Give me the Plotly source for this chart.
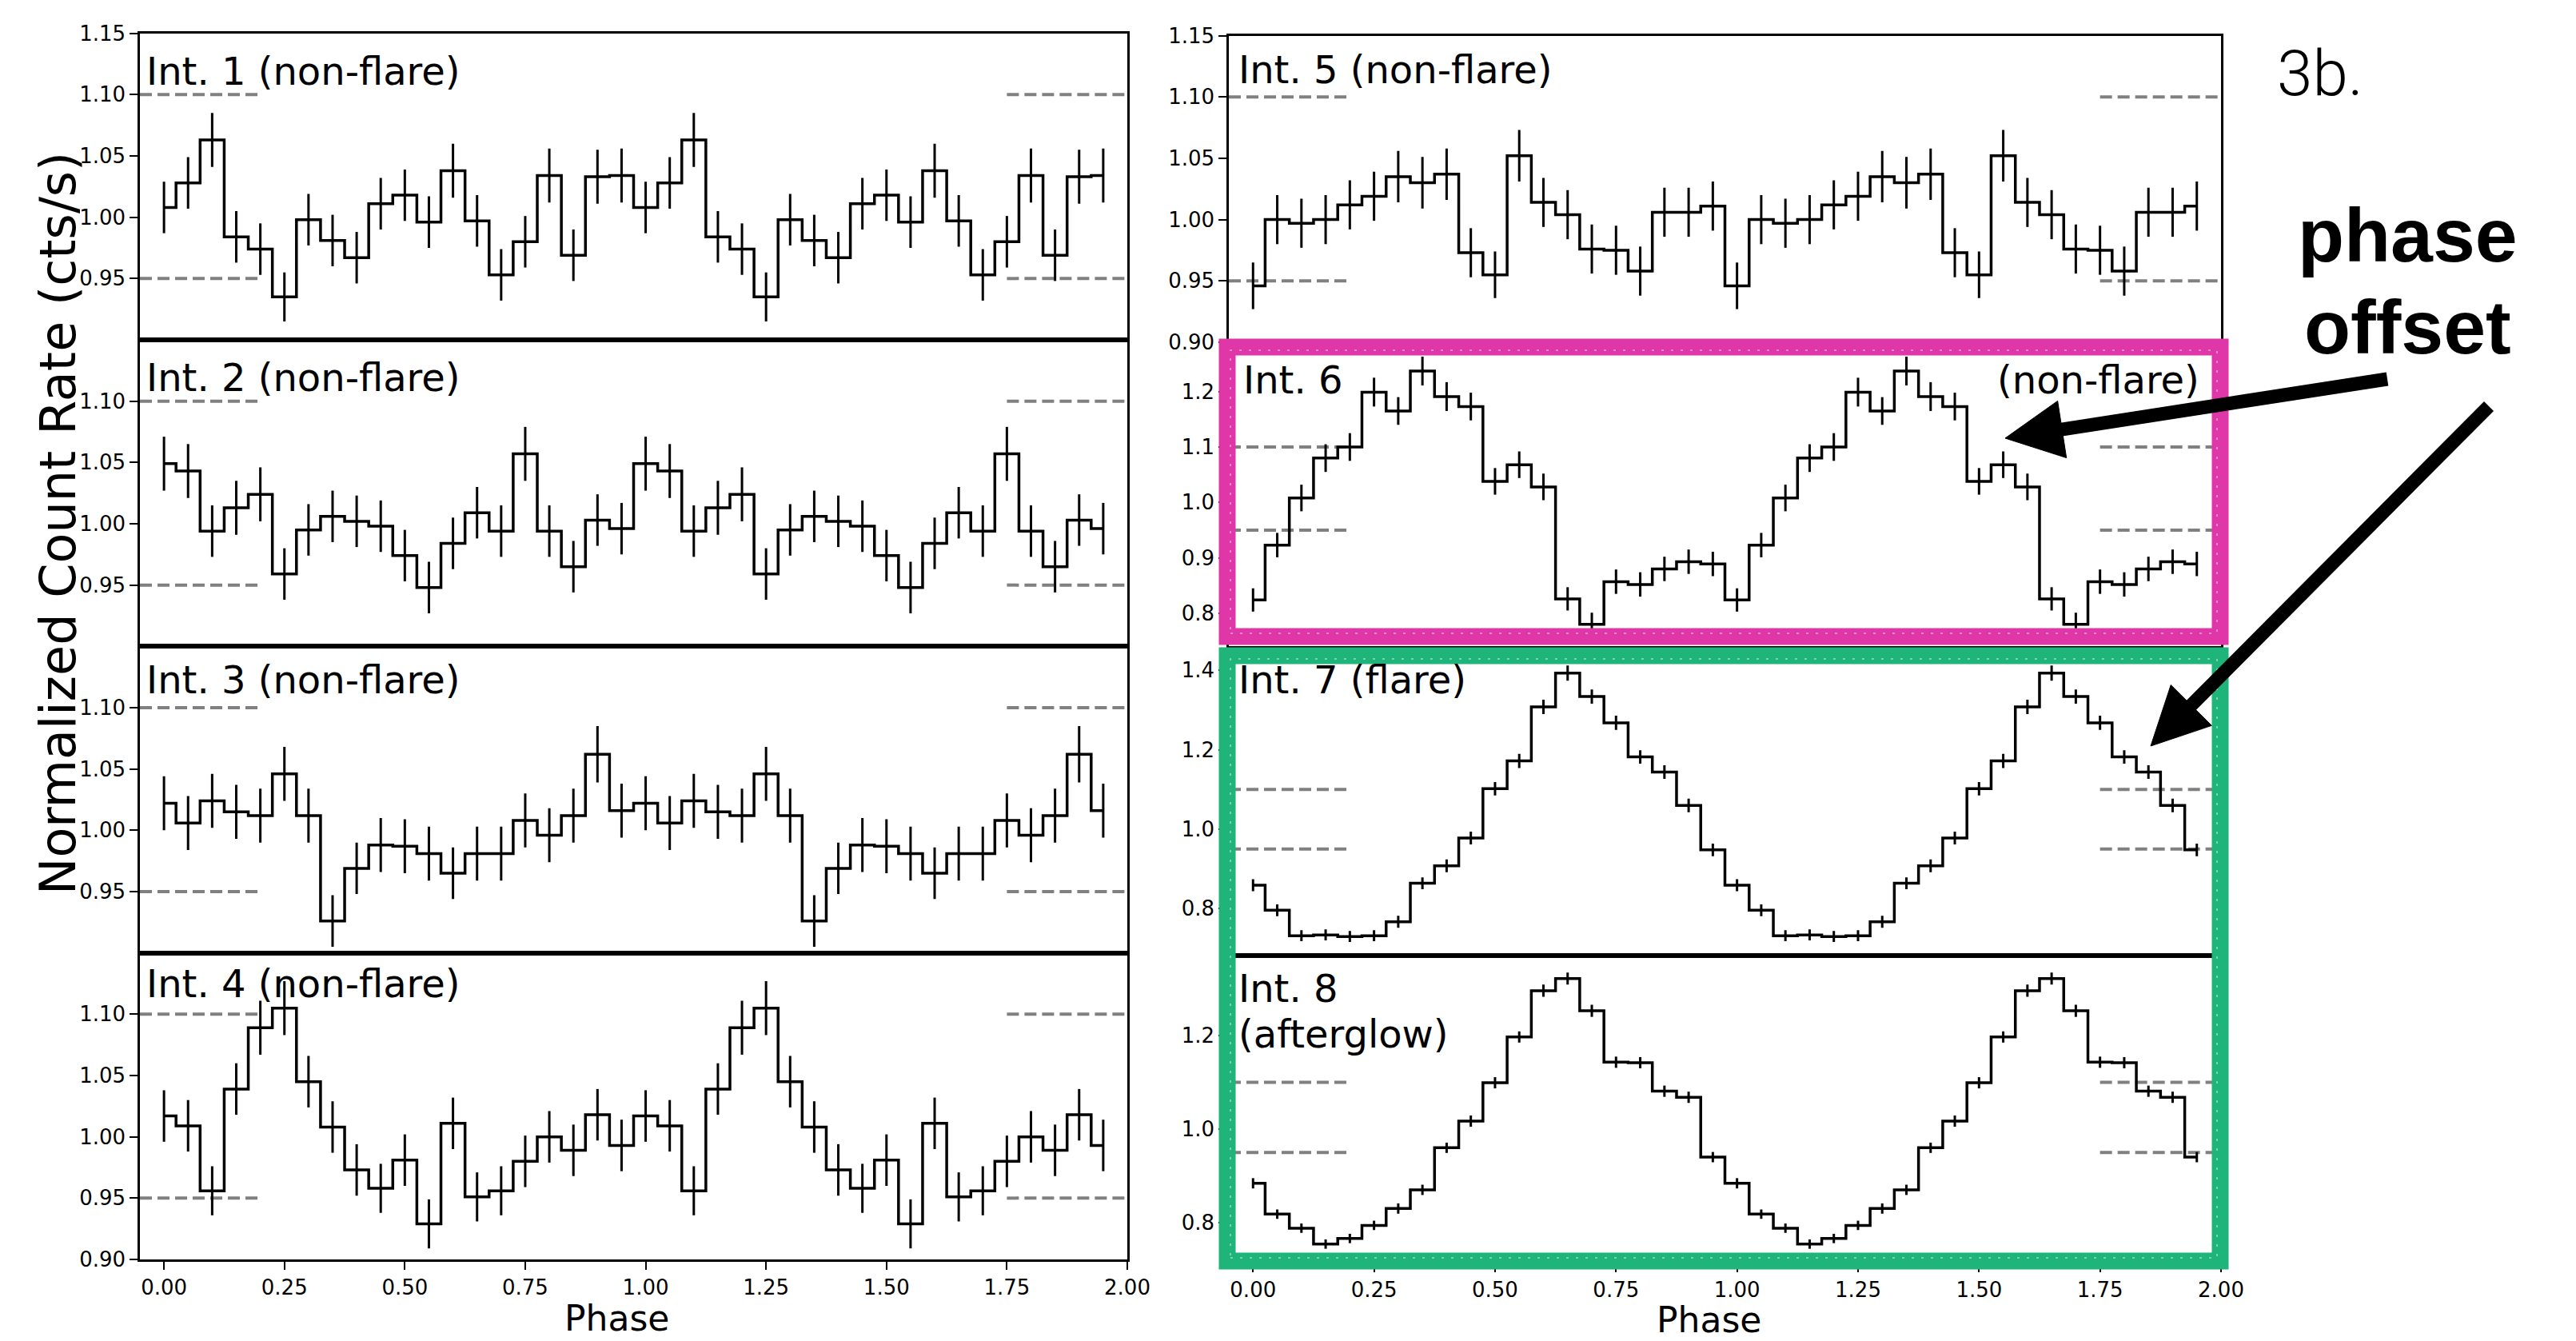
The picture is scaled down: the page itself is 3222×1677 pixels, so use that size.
import math
import plotly.graph_objects as go

W, H = 3222, 1677

# ---------------- data ----------------
PHASE = [0.00, 0.05, 0.10, 0.15, 0.20, 0.25, 0.30, 0.35, 0.40, 0.45,
         0.50, 0.55, 0.60, 0.65, 0.70, 0.75, 0.80, 0.85, 0.90, 0.95,
         1.00, 1.05, 1.10, 1.15, 1.20, 1.25, 1.30, 1.35, 1.40, 1.45,
         1.50, 1.55, 1.60, 1.65, 1.70, 1.75, 1.80, 1.85, 1.90, 1.95]

INT1 = [1.008, 1.028, 1.063, 0.984, 0.974, 0.935, 0.998, 0.981, 0.967, 1.011,
        1.018, 0.996, 1.038, 0.997, 0.953, 0.980, 1.034, 0.969, 1.033, 1.034]
ERR1 = [0.021, 0.021, 0.022, 0.021, 0.021, 0.020, 0.021, 0.021, 0.021, 0.021,
        0.021, 0.021, 0.022, 0.021, 0.021, 0.021, 0.022, 0.021, 0.022, 0.022]

INT2 = [1.049, 1.043, 0.994, 1.013, 1.024, 0.959, 0.995, 1.006, 1.002, 0.998,
        0.974, 0.948, 0.984, 1.009, 0.994, 1.057, 0.994, 0.965, 1.003, 0.996]
ERR2 = [0.022, 0.022, 0.021, 0.022, 0.022, 0.021, 0.021, 0.021, 0.021, 0.021,
        0.021, 0.021, 0.021, 0.021, 0.021, 0.022, 0.021, 0.021, 0.021, 0.021]

INT3 = [1.022, 1.006, 1.024, 1.015, 1.012, 1.046, 1.012, 0.926, 0.969, 0.988,
        0.987, 0.981, 0.965, 0.981, 0.981, 1.008, 0.996, 1.012, 1.062, 1.016]
ERR3 = [0.022, 0.022, 0.022, 0.022, 0.022, 0.022, 0.022, 0.021, 0.021, 0.022,
        0.022, 0.022, 0.021, 0.022, 0.022, 0.022, 0.022, 0.022, 0.023, 0.022]

INT4 = [1.017, 1.009, 0.956, 1.039, 1.089, 1.105, 1.045, 1.008, 0.973, 0.958,
        0.981, 0.929, 1.011, 0.951, 0.956, 0.980, 1.000, 0.989, 1.018, 0.993]
ERR4 = [0.021, 0.021, 0.020, 0.021, 0.022, 0.022, 0.021, 0.021, 0.021, 0.020,
        0.021, 0.020, 0.021, 0.020, 0.020, 0.021, 0.021, 0.021, 0.021, 0.021]

INT5 = [0.946, 1.000, 0.997, 1.000, 1.012, 1.019, 1.035, 1.030, 1.037, 0.973,
        0.955, 1.052, 1.014, 1.004, 0.976, 0.975, 0.958, 1.006, 1.006, 1.011]
ERR5 = [0.019, 0.020, 0.020, 0.020, 0.020, 0.020, 0.021, 0.021, 0.021, 0.020,
        0.019, 0.021, 0.020, 0.020, 0.020, 0.020, 0.020, 0.020, 0.020, 0.020]

INT6 = [0.824, 0.923, 1.008, 1.080, 1.100, 1.199, 1.165, 1.237, 1.191, 1.173,
        1.038, 1.068, 1.028, 0.826, 0.780, 0.857, 0.852, 0.880, 0.893, 0.889]
ERR6 = [0.021, 0.022, 0.024, 0.025, 0.025, 0.026, 0.025, 0.026, 0.026, 0.025,
        0.024, 0.024, 0.024, 0.021, 0.021, 0.022, 0.022, 0.022, 0.022, 0.022]

INT7 = [0.859, 0.796, 0.732, 0.734, 0.730, 0.732, 0.767, 0.864, 0.908, 0.978,
        1.102, 1.172, 1.308, 1.393, 1.334, 1.268, 1.182, 1.144, 1.060, 0.948]
ERR7 = [0.015, 0.015, 0.014, 0.014, 0.014, 0.014, 0.015, 0.015, 0.016, 0.016,
        0.017, 0.018, 0.018, 0.019, 0.018, 0.018, 0.017, 0.017, 0.017, 0.016]

INT8 = [0.884, 0.818, 0.788, 0.754, 0.766, 0.794, 0.830, 0.870, 0.960, 1.017,
        1.099, 1.197, 1.296, 1.322, 1.253, 1.143, 1.142, 1.081, 1.068, 0.940]
ERR8 = [0.011, 0.010, 0.010, 0.010, 0.010, 0.010, 0.011, 0.011, 0.011, 0.012,
        0.012, 0.012, 0.013, 0.013, 0.013, 0.012, 0.012, 0.012, 0.012, 0.011]

SERIES = [INT1, INT2, INT3, INT4, INT5, INT6, INT7, INT8]
ERRORS = [ERR1, ERR2, ERR3, ERR4, ERR5, ERR6, ERR7, ERR8]

LABELS = ["Int. 1 (non-flare)", "Int. 2 (non-flare)", "Int. 3 (non-flare)",
          "Int. 4 (non-flare)", "Int. 5 (non-flare)", "Int. 6", "Int. 7 (flare)",
          "Int. 8"]

YTICKS = [
    [0.95, 1.00, 1.05, 1.10, 1.15],
    [0.95, 1.00, 1.05, 1.10],
    [0.95, 1.00, 1.05, 1.10],
    [0.90, 0.95, 1.00, 1.05, 1.10],
    [0.90, 0.95, 1.00, 1.05, 1.10, 1.15],
    [0.8, 0.9, 1.0, 1.1, 1.2],
    [0.8, 1.0, 1.2, 1.4],
    [0.8, 1.0, 1.2],
]
YRANGES = [[0.90, 1.15], [0.90, 1.15], [0.90, 1.15], [0.90, 1.15],
           [0.90, 1.15], [0.7364, 1.289], [0.683, 1.455], [0.716, 1.372]]
YFORMAT = [".2f"] * 5 + [".1f"] * 3

XTICKS = [0.00, 0.25, 0.50, 0.75, 1.00, 1.25, 1.50, 1.75, 2.00]
XRANGE = [-0.05, 2.0]
DASH_LEVELS = [0.95, 1.10]
DASH_SPANS = [[-0.05, 0.2], [1.75, 2.0]]

# ---------------- layout geometry (pixels) ----------------
COLS = [(175, 1410), (1537, 2778)]
ROWS_LEFT = [41.7, 425.0, 808.3, 1191.7, 1575.0]
ROWS_RIGHT = [44.5, 428.0, 811.0, 1194.5, 1578.0]

FONT = "DejaVu Sans"


def px(x):
    return x / W


def py(y):
    return 1 - y / H


fig = go.Figure()
layout = dict(
    width=W, height=H, autosize=False,
    margin=dict(l=0, r=0, t=0, b=0, autoexpand=False),
    paper_bgcolor="white", plot_bgcolor="white",
    showlegend=False,
)

for i in range(8):
    n = i + 1
    col = 0 if i < 4 else 1
    row = i % 4
    rows = ROWS_LEFT if col == 0 else ROWS_RIGHT
    xa = "xaxis" if n == 1 else f"xaxis{n}"
    ya = "yaxis" if n == 1 else f"yaxis{n}"
    xr = "x" if n == 1 else f"x{n}"
    yr = "y" if n == 1 else f"y{n}"
    bottom = row == 3
    layout[xa] = dict(
        domain=[px(COLS[col][0]), px(COLS[col][1])],
        anchor=yr, range=XRANGE, showgrid=False, zeroline=False,
        showline=True, linecolor="black", linewidth=2.5, mirror=True,
        ticks="outside" if bottom else "", ticklen=10, tickwidth=2, tickcolor="black",
        tickvals=XTICKS, tickformat=".2f", showticklabels=bottom,
        tickfont=dict(family=FONT, size=26, color="black"),
    )
    layout[ya] = dict(
        domain=[py(rows[row + 1]), py(rows[row])],
        anchor=xr, range=YRANGES[i], showgrid=False, zeroline=False,
        showline=True, linecolor="black", linewidth=2.5, mirror=True,
        ticks="outside", ticklen=10, tickwidth=2, tickcolor="black",
        tickvals=YTICKS[i], tickformat=YFORMAT[i],
        tickfont=dict(family=FONT, size=26, color="black"),
    )

    # dashed reference levels
    dx, dy = [], []
    for lev in DASH_LEVELS:
        for span in DASH_SPANS:
            dx += [span[0], span[1], None]
            dy += [lev, lev, None]
    fig.add_trace(go.Scatter(
        x=dx, y=dy, mode="lines", xaxis=xr, yaxis=yr, hoverinfo="skip",
        line=dict(color="#808080", width=4, dash="15px,7px"),
    ))

    vals = SERIES[i] + SERIES[i]
    errs = ERRORS[i] + ERRORS[i]
    fig.add_trace(go.Scatter(
        x=PHASE, y=vals, mode="lines", xaxis=xr, yaxis=yr,
        line=dict(color="black", width=3.5, shape="hvh"),
        error_y=dict(type="data", array=errs, visible=True,
                     color="black", thickness=3, width=0),
    ))

annotations = []

# panel labels: (text, x px, middle y px, xanchor)
LABEL_POS = [
    (LABELS[0], 181, 89, "left"),
    (LABELS[1], 181, 472, "left"),
    (LABELS[2], 181, 850, "left"),
    (LABELS[3], 181, 1230, "left"),
    (LABELS[4], 1547, 86.5, "left"),
    (LABELS[5], 1553, 475, "left"),
    (LABELS[6], 1547, 850, "left"),
    (LABELS[7], 1547, 1236, "left"),
    ("(non-flare)", 2753, 475, "right"),
    ("(afterglow)", 1547, 1293, "left"),
]
for txt, x, y, xa_ in LABEL_POS:
    annotations.append(dict(
        text=txt, x=px(x), y=py(y), xref="paper", yref="paper",
        xanchor=xa_, yanchor="middle", showarrow=False,
        font=dict(family=FONT, size=48, color="black"),
    ))

# axis titles
annotations.append(dict(
    text="Normalized Count Rate (cts/s)", x=px(72), y=py(655), xref="paper",
    yref="paper", xanchor="center", yanchor="middle", textangle=-90,
    showarrow=False, font=dict(family=FONT, size=62, color="black"),
))
annotations.append(dict(
    text="Phase", x=px(771), y=py(1648), xref="paper", yref="paper",
    xanchor="center", yanchor="middle", showarrow=False,
    font=dict(family=FONT, size=44, color="black"),
))
annotations.append(dict(
    text="Phase", x=px(2137), y=py(1650), xref="paper", yref="paper",
    xanchor="center", yanchor="middle", showarrow=False,
    font=dict(family=FONT, size=44, color="black"),
))

# figure tag and callout text
annotations.append(dict(
    text="3b.", x=px(2902), y=py(92), xref="paper", yref="paper",
    xanchor="center", yanchor="middle", showarrow=False,
    font=dict(family="Roboto, Liberation Sans, sans-serif", size=80,
              color="black", weight=300),
))
for txt, y in [("phase", 294), ("offset", 409)]:
    annotations.append(dict(
        text=txt, x=px(3011), y=py(y), xref="paper", yref="paper",
        xanchor="center", yanchor="middle", showarrow=False,
        font=dict(family="Liberation Sans, Arial, sans-serif", size=95,
                  color="black", weight="bold"),
    ))

layout["annotations"] = annotations

shapes = []

# hand-drawn highlight boxes
MAGENTA = "#DF36A8"
GREEN = "#1EB47A"
for (x0, y0, x1, y1), c in [((1535, 434, 2777, 796), MAGENTA),
                            ((1535, 820, 2777, 1577), GREEN)]:
    shapes.append(dict(type="rect", xref="paper", yref="paper",
                       x0=px(x0), x1=px(x1), y0=py(y1), y1=py(y0),
                       line=dict(color=c, width=21), layer="above"))
    shapes.append(dict(type="rect", xref="paper", yref="paper",
                       x0=px(x0 + 4), x1=px(x1 - 4), y0=py(y1 - 4), y1=py(y0 + 4),
                       line=dict(color="rgba(255,255,255,0.55)", width=1.5, dash="3px,9px"),
                       layer="above"))


def arrow(x0, y0, x1, y1, head_len=72, head_w=72, width=17):
    dx, dy = x1 - x0, y1 - y0
    L = math.hypot(dx, dy)
    ux, uy = dx / L, dy / L
    bx, by = x1 - ux * head_len, y1 - uy * head_len
    shapes.append(dict(type="line", xref="paper", yref="paper",
                       x0=px(x0), y0=py(y0), x1=px(bx + ux * 4), y1=py(by + uy * 4),
                       line=dict(color="black", width=width), layer="above"))
    ax, ay = bx - uy * head_w / 2, by + ux * head_w / 2
    cx, cy = bx + uy * head_w / 2, by - ux * head_w / 2
    path = (f"M {px(x1)} {py(y1)} L {px(ax)} {py(ay)} "
            f"L {px(cx)} {py(cy)} Z")
    shapes.append(dict(type="path", xref="paper", yref="paper", path=path,
                       fillcolor="black", line=dict(color="black", width=1),
                       layer="above"))


arrow(2986, 474, 2508, 548)
arrow(3113, 508, 2690, 933)

layout["shapes"] = shapes
fig.update_layout(**layout)

fig.write_html(
    "out.html",
    config={"displayModeBar": False},
    post_script=(
        "var s=document.createElement('style');"
        "s.innerHTML='html,body{margin:0;padding:0;overflow:hidden;}';"
        "document.head.appendChild(s);"
    ),
)
